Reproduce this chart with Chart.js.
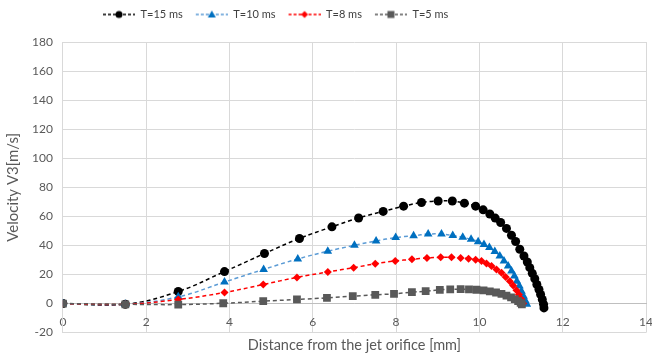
<!DOCTYPE html>
<html>
<head>
<meta charset="utf-8">
<script src="https://cdn.jsdelivr.net/npm/chart.js@4.4.1/dist/chart.umd.min.js"></script>
<style>
  html, body { margin: 0; padding: 0; background: #fff; }
  #wrap { width: 652px; height: 358px; }
</style>
</head>
<body>
<div id="wrap"><canvas id="chart" width="652" height="358"></canvas></div>
<script>
// values (x in mm, y in m/s)
const distT15 = [0, 1.5, 2.77, 3.88, 4.84, 5.68, 6.46, 7.1, 7.69, 8.18, 8.61, 9.01, 9.35, 9.64, 9.91, 10.09, 10.25, 10.38, 10.51, 10.65, 10.77, 10.87, 10.97, 11.07, 11.15, 11.21, 11.27, 11.33, 11.38, 11.43, 11.47, 11.51, 11.54, 11.55];
const velT15  = [0, -0.5, 8.3, 22, 34.4, 44.8, 52.8, 58.9, 63.4, 67, 69.5, 70.6, 70.6, 69.1, 67, 64.5, 61.6, 58.8, 55.8, 51.7, 47, 42.7, 37.4, 32.7, 28.6, 24.7, 20.8, 17.1, 13.1, 9.7, 6.2, 2.8, -0.5, -3];

const distT10 = [0, 1.5, 2.77, 3.88, 4.82, 5.64, 6.36, 7.0, 7.52, 7.99, 8.42, 8.77, 9.09, 9.36, 9.6, 9.8, 9.97, 10.11, 10.24, 10.37, 10.49, 10.59, 10.69, 10.77, 10.84, 10.9, 10.96, 11.01, 11.06, 11.1, 11.14];
const velT10  = [0, -0.5, 4.6, 14.8, 23.5, 30.7, 36, 40.1, 43.1, 45.4, 46.7, 47.8, 47.8, 46.8, 45.6, 44.2, 42.6, 40.6, 38.5, 35.8, 32.7, 29.3, 25.8, 22.4, 18.9, 15.4, 12, 8.5, 5.1, 2.1, -0.5];

const distT8 = [0, 1.5, 2.77, 3.88, 4.81, 5.62, 6.36, 6.98, 7.5, 7.98, 8.38, 8.74, 9.07, 9.33, 9.55, 9.74, 9.91, 10.05, 10.17, 10.29, 10.41, 10.53, 10.63, 10.73, 10.81, 10.89, 10.95, 11.01, 11.05];
const velT8  = [0, -0.5, 2.8, 7.6, 13.1, 18, 21.7, 24.7, 27.4, 29.3, 30.4, 31.4, 31.8, 31.8, 31.4, 30.8, 30.2, 29.2, 27.6, 25.8, 23.5, 21.2, 18.3, 15.4, 12.5, 9.2, 6.2, 2.9, 0];

const distT5 = [0, 1.5, 2.77, 3.85, 4.81, 5.62, 6.34, 6.96, 7.5, 7.95, 8.38, 8.71, 9.05, 9.3, 9.55, 9.75, 9.93, 10.1, 10.25, 10.4, 10.53, 10.65, 10.76, 10.85, 10.93, 10.99, 11.02];
const velT5  = [0, -0.5, -0.7, 0.2, 1.6, 2.8, 3.9, 5.1, 6, 6.7, 7.8, 8.5, 9.4, 9.8, 9.9, 9.8, 9.5, 9, 8.4, 7.6, 6.6, 5.5, 4.3, 3, 1.7, 0.5, -0.6];

const seriesNames = ['T=15 ms', 'T=10 ms', 'T=8 ms', 'T=5 ms'];
const xTicks = [0, 2, 4, 6, 8, 10, 12, 14];
const yTicks = [-20, 0, 20, 40, 60, 80, 100, 120, 140, 160, 180];

const pts = (xs, ys) => xs.map((x, i) => ({ x: x, y: ys[i] }));

const looks = [
  { line: '#000000', mark: '#000000', style: 'circle', r: 4.5 },
  { line: '#5b9bd5', mark: '#0070c0', style: 'triangle', r: 5 },
  { line: '#ff0000', mark: '#ff0000', style: 'rectRot', r: 4 },
  { line: '#595959', mark: '#595959', style: 'rect', r: 5.5 }
];
const seriesData = [pts(distT15, velT15), pts(distT10, velT10), pts(distT8, velT8), pts(distT5, velT5)];

// legend pictures: dashed line with the marker in the middle, a bit of blank on the left as item gap
const ICON_W = 36, ICON_GAP = 4;
function makeIcon(lk) {
  const c = document.createElement('canvas');
  c.width = ICON_W; c.height = 12;
  const g = c.getContext('2d');
  const mid = ICON_GAP + (ICON_W - ICON_GAP) / 2;
  g.strokeStyle = lk.line; g.lineWidth = 1.5; g.setLineDash([3, 2]);
  g.beginPath(); g.moveTo(ICON_GAP, 6); g.lineTo(ICON_W, 6); g.stroke();
  g.setLineDash([]);
  g.fillStyle = lk.mark;
  g.beginPath();
  if (lk.style === 'circle') g.arc(mid, 6, 3.5, 0, Math.PI * 2);
  else if (lk.style === 'triangle') { g.moveTo(mid, 2); g.lineTo(mid + 4, 9); g.lineTo(mid - 4, 9); g.closePath(); }
  else if (lk.style === 'rectRot') { g.moveTo(mid, 2.5); g.lineTo(mid + 3.5, 6); g.lineTo(mid, 9.5); g.lineTo(mid - 3.5, 6); g.closePath(); }
  else g.rect(mid - 3.5, 2.5, 7, 7);
  g.fill();
  return c;
}
const icons = looks.map(makeIcon);

const datasets = seriesNames.map((name, i) => ({
  label: name,
  data: seriesData[i],
  borderColor: looks[i].line,
  borderWidth: 1.5,
  borderDash: [4, 3],
  tension: 0.4,
  pointStyle: looks[i].style,
  pointRadius: looks[i].r,
  pointBackgroundColor: looks[i].mark,
  pointBorderColor: looks[i].mark,
  pointBorderWidth: 0,
  order: 10 - i
}));

// extra room under the legend, and the legend sits left of centre like in the original
const legendTweak = {
  id: 'legendTweak',
  afterInit(chart) {
    const fit = chart.legend.fit;
    chart.legend.fit = function () { fit.call(this); this.height += 12; };
  },
  afterLayout(chart) {
    chart.legend.left = 90;
  }
};

Chart.defaults.font.family = 'Lato, "Open Sans", sans-serif';
Chart.defaults.color = '#595959';

new Chart(document.getElementById('chart'), {
  type: 'line',
  data: { datasets: datasets },
  plugins: [legendTweak],
  options: {
    responsive: false,
    animation: false,
    layout: { padding: { top: 0, right: 0, bottom: 2, left: 4 } },
    plugins: {
      tooltip: { enabled: false },
      legend: {
        position: 'top',
        align: 'start',
        labels: {
          usePointStyle: true,
          pointStyleWidth: ICON_W,
          boxHeight: 12,
          padding: 9,
          color: '#404040',
          font: { size: 11 },
          generateLabels(chart) {
            const items = Chart.defaults.plugins.legend.labels.generateLabels(chart);
            items.forEach(it => { it.pointStyle = icons[it.datasetIndex]; it.lineWidth = 0; });
            return items.sort((a, b) => a.datasetIndex - b.datasetIndex);
          }
        }
      }
    },
    scales: {
      x: {
        type: 'linear',
        position: { y: 0 },
        min: 0, max: 14,
        afterBuildTicks: s => { s.ticks = xTicks.map(v => ({ value: v })); },
        afterFit: s => { s.paddingRight = 6; },
        grid: { color: '#d9d9d9', drawTicks: false },
        border: { color: '#bfbfbf' },
        ticks: { padding: 11, font: { size: 12 }, color: '#595959' }
      },
      x2: {
        type: 'linear',
        position: 'bottom',
        min: 0, max: 14,
        grid: { display: false, drawTicks: false },
        border: { display: false },
        ticks: { display: false },
        title: { display: true, text: 'Distance from the jet orifice [mm]', font: { size: 14.5 }, color: '#595959', padding: { top: 4, bottom: 2 } }
      },
      y: {
        type: 'linear',
        min: -20, max: 180,
        afterBuildTicks: s => { s.ticks = yTicks.map(v => ({ value: v })); },
        grid: { color: '#d9d9d9', drawTicks: false },
        border: { color: '#d9d9d9' },
        ticks: { padding: 10, font: { size: 12 }, color: '#595959' },
        title: { display: true, text: 'Velocity V3[m/s]', font: { size: 15 }, color: '#595959', padding: { top: 0, bottom: 0 } }
      }
    }
  }
});
</script>
</body>
</html>
